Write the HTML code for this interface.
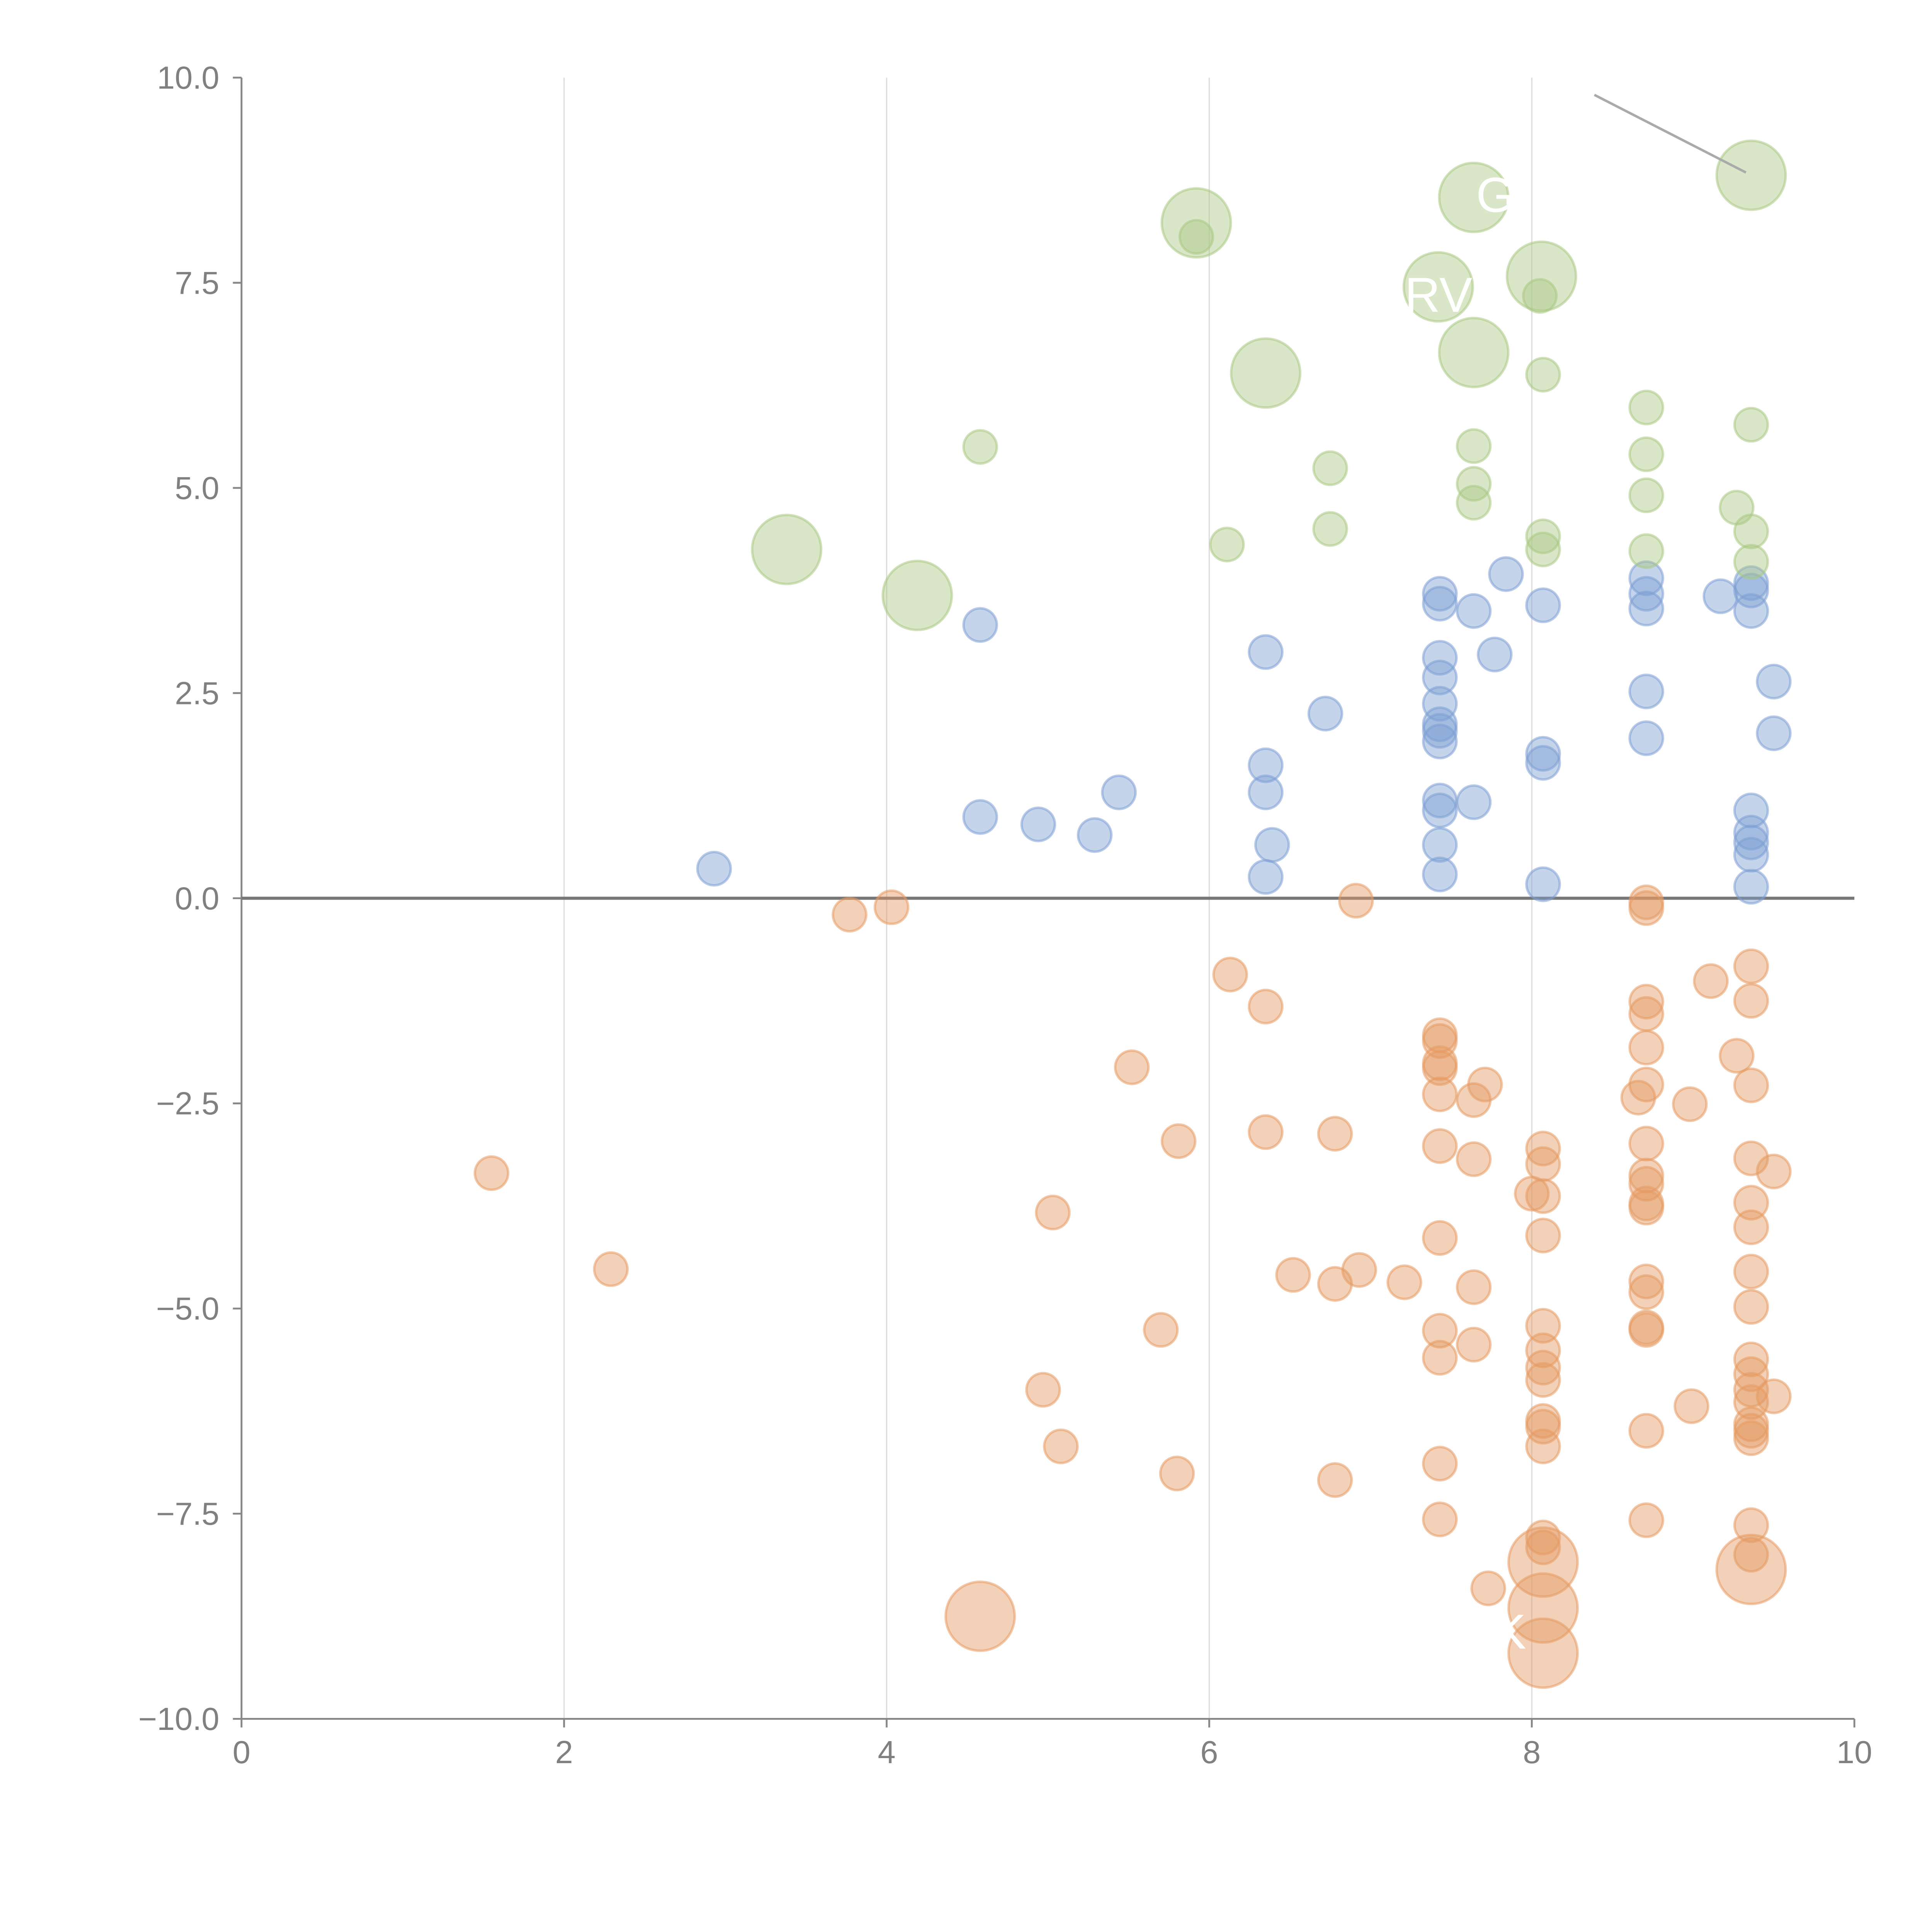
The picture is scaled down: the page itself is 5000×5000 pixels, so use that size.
<!DOCTYPE html>
<html><head><meta charset="utf-8"><style>
html,body{margin:0;padding:0;background:#fff}
svg{display:block}
text{font-family:"Liberation Sans",Arial,sans-serif}
</style></head><body>
<svg id="chart" width="5000" height="5000" viewBox="0 0 1568 1568" xmlns="http://www.w3.org/2000/svg">
<g id="grid"></g>
<g id="axes"></g>
<g id="marks"></g>
<g id="labels"></g>
</svg>
<script>
const xTicks=[0,2,4,6,8,10];
const yTicks=[-10,-7.5,-5,-2.5,0,2.5,5,7.5,10];
const greenX=[9.36,7.64,5.92,5.92,7.42,8.06,8.05,7.64,6.35,3.38,4.19,8.07,8.71,9.36,8.71,4.58,7.64,6.75,7.64,7.64,8.71,9.27,9.36,6.75,6.11,8.07,8.07,8.71,9.36];
const greenY=[8.81,8.54,8.23,8.06,7.45,7.58,7.34,6.65,6.40,4.25,3.69,6.38,5.98,5.77,5.41,5.50,5.51,5.24,5.05,4.82,4.91,4.76,4.47,4.50,4.31,4.41,4.25,4.23,4.10];
const greenS=[2,2,2,1,2,2,1,2,2,2,2,1,1,1,1,1,1,1,1,1,1,1,1,1,1,1,1,1,1];
const blueX=[2.93,4.58,4.58,4.94,5.29,5.44,6.35,6.35,6.35,6.39,6.35,6.72,7.43,7.43,7.43,7.43,7.43,7.43,7.43,7.43,7.43,7.43,7.43,7.43,7.64,7.77,7.84,7.64,8.07,8.07,8.07,8.07,8.71,8.71,8.71,8.71,8.71,9.17,9.36,9.36,9.36,9.50,9.50,9.36,9.36,9.36,9.36,9.36];
const blueY=[0.36,3.33,0.99,0.90,0.77,1.29,3.00,1.62,1.29,0.65,0.26,2.25,3.71,3.59,2.93,2.69,2.37,2.12,2.04,1.91,1.19,1.07,0.65,0.29,3.50,2.97,3.95,1.17,3.57,1.76,1.65,0.17,3.90,3.71,3.53,2.52,1.95,3.68,3.84,3.75,3.50,2.64,2.01,1.07,0.80,0.68,0.53,0.14];
const orangeX=[1.55,2.29,3.77,4.03,6.91,6.13,6.35,5.52,5.81,6.35,6.78,5.03,6.52,6.78,6.93,7.21,5.70,4.97,5.08,5.80,6.78,7.43,7.43,7.43,7.43,7.43,7.43,7.43,7.43,7.43,7.43,7.43,7.64,7.71,7.64,7.64,7.64,7.73,8.00,8.07,8.07,8.07,8.07,8.07,8.07,8.07,8.07,8.07,8.07,8.07,8.07,8.07,8.71,8.71,8.71,8.71,8.71,8.71,8.66,8.71,8.71,8.71,8.71,8.71,8.71,8.71,8.71,8.71,8.71,8.71,9.11,9.27,8.98,8.99,9.36,9.36,9.36,9.36,9.50,9.36,9.36,9.36,9.36,9.36,9.36,9.36,9.36,9.50,9.36,9.36,9.36,9.36,9.36,4.58,9.36,8.07,8.07,8.07];
const orangeY=[-3.35,-4.52,-0.20,-0.11,-0.03,-0.93,-1.32,-2.06,-2.96,-2.85,-2.87,-3.83,-4.59,-4.70,-4.53,-4.68,-5.26,-5.99,-6.68,-7.01,-7.09,-1.67,-1.74,-2.01,-2.07,-2.39,-3.02,-4.14,-5.27,-5.60,-6.89,-7.57,-2.46,-2.27,-3.18,-4.74,-5.44,-8.41,-3.60,-3.05,-3.24,-3.63,-4.11,-5.21,-5.51,-5.72,-5.87,-6.37,-6.44,-6.68,-7.79,-7.91,-0.05,-0.12,-1.26,-1.41,-1.82,-2.27,-2.43,-2.99,-3.38,-3.48,-3.72,-3.77,-4.67,-4.80,-5.23,-5.26,-6.49,-7.58,-1.01,-1.92,-2.51,-6.19,-0.83,-1.25,-2.28,-3.17,-3.33,-3.71,-4.01,-4.55,-4.98,-5.62,-5.80,-5.99,-6.14,-6.07,-6.41,-6.49,-6.58,-7.64,-8.00,-8.75,-8.18,-8.09,-8.65,-9.20];
const orangeS=orangeX.map((_,i)=>i>=orangeX.length-5?2:1);
const X0=196,X1=1505,Y0=1395,Y1=63;
const sx=v=>X0+(v-0)/(10-0)*(X1-X0);
const sy=v=>Y0-(v+10)/20*(Y0-Y1);
const NS='http://www.w3.org/2000/svg';
function mk(tag,attrs,parent){const e=document.createElementNS(NS,tag);for(const k in attrs)e.setAttribute(k,attrs[k]);parent.appendChild(e);return e;}
const grid=document.getElementById('grid'),axes=document.getElementById('axes'),marks=document.getElementById('marks'),labels=document.getElementById('labels');
xTicks.forEach(t=>{
  if(t>0&&t<10){const g=mk('line',{x1:sx(t),x2:sx(t),y1:Y1,y2:Y0,stroke:'#dcdcdc','stroke-width':1},grid);
  
  }
  const tk=mk('line',{x1:sx(t),x2:sx(t),y1:Y0,y2:Y0+7,stroke:'#888','stroke-width':1.5},axes);
  
  
  const tx=mk('text',{x:sx(t),y:Y0+36,'text-anchor':'middle','font-size':26,fill:'#808080'},axes);
  tx.textContent=t;
  
  
});
yTicks.forEach(t=>{
  const tk=mk('line',{x1:X0-7,x2:X0,y1:sy(t),y2:sy(t),stroke:'#888','stroke-width':1.5},axes);
  
  
  const tx=mk('text',{x:X0-18,y:sy(t)+9,'text-anchor':'end','font-size':26,fill:'#808080'},axes);
  tx.textContent=(t<0?'\u2212':'')+Math.abs(t).toFixed(1);
  
  
});
const ya=mk('line',{x1:X0,x2:X0,y1:Y1,y2:Y0,stroke:'#888','stroke-width':1.5},axes);


const xa=mk('line',{x1:X0,x2:X1,y1:Y0,y2:Y0,stroke:'#888','stroke-width':1.5},axes);


const zl=mk('line',{x1:X0,x2:X1,y1:sy(0),y2:sy(0),stroke:'#777','stroke-width':2.5},axes);


function series(xs,ys,ss,fill,stroke,name){
  xs.forEach((x,i)=>{
    const r=ss[i]===2?28:13.5;
    const c=mk('circle',{cx:sx(x),cy:sy(ys[i]),r:r,fill:fill,'fill-opacity':0.45,stroke:stroke,'stroke-opacity':0.55,'stroke-width':2},marks);
    
    
  });
}
series(blueX,blueY,blueX.map(()=>1),'#7d9fd3','#7d9fd3','blue-point');
series(orangeX,orangeY,orangeS,'#e59a62','#e59a62','orange-point');
series(greenX,greenY,greenS,'#aac884','#aac884','green-point');
const ld=mk('line',{x1:1294,y1:77,x2:1417,y2:140,stroke:'#aaa','stroke-width':2},labels);


[['GI',1198,172],['RV',1140,253],['K',1212,1338]].forEach(l=>{
  const t=mk('text',{x:l[1],y:l[2],'font-size':40,fill:'#fff'},labels);
  t.textContent=l[0];
  
  
});
</script>
</body></html>
